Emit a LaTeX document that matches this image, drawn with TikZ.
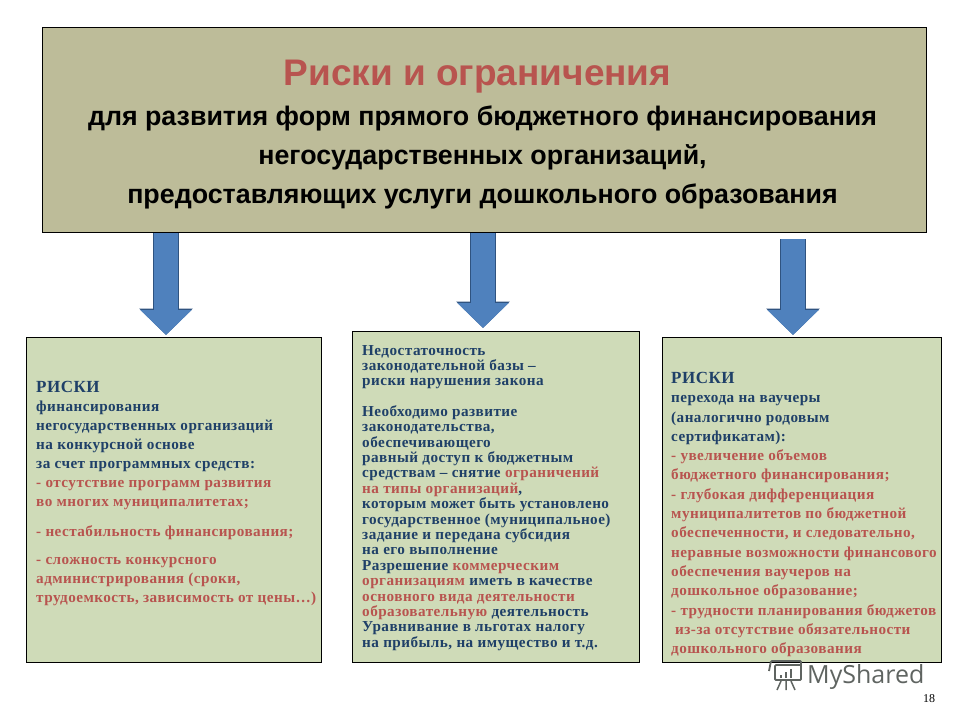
\documentclass[tikz,border=0pt]{standalone}
\usepackage{fontspec}
\setmainfont{Liberation Serif}
\setsansfont{Liberation Sans}
\newfontfamily\bodyfont[LetterSpace=3]{Liberation Serif}
\newfontfamily\markfont{Open Sans}
\usepackage{xcolor}
\definecolor{headbg}{HTML}{BDBC99}
\definecolor{riskbg}{HTML}{CFDBB8}
\definecolor{riskred}{HTML}{B8544F}
\definecolor{riskblue}{HTML}{1F4068}
\definecolor{arrowblue}{HTML}{4F81BD}
\definecolor{arrowedge}{HTML}{2F5380}
\definecolor{markgray}{HTML}{5F6461}
\usetikzlibrary{arrows.meta, positioning}
\newcommand{\rsk}[1]{\textcolor{riskred}{#1}}

\begin{document}
\begin{tikzpicture}[
      x=1pt, y=-1pt,
      %% Header box across the top
      headbox/.style={rectangle, draw=black, fill=headbg, line width=0.8pt,
                      minimum width=884.2pt, minimum height=205.2pt, anchor=north west},
      headtxt/.style={align=center, inner sep=0pt,
                      font=\sffamily\bfseries\fontsize{26.8}{39}\selectfont},
      %% The three green boxes
      riskbox/.style={rectangle, draw=black, fill=riskbg, line width=0.8pt,
                      anchor=north west, inner sep=0pt},
      risktxt/.style={anchor=north west, inner sep=0pt, align=left, text=riskblue,
                      font=\bodyfont\bfseries\fontsize{15.2}{#1}\selectfont},
      %% Block arrows: an edge colour pass, then the blue fill
      blockarr/.style={-{Triangle[width=50pt, length=25pt, fill=arrowblue, color=arrowblue]},
                       draw=arrowblue, line width=24pt,
                       preaction={draw=arrowedge, line width=25.4pt,
                                  -{Triangle[width=52pt, length=26.5pt, color=arrowedge]}}},
    ]
    \useasboundingbox (0,0) rectangle (960,720);

    %% ── Header ──────────────────────────────────────────────────────────────
    \node[headbox] (head) at (42,27) {};
    \node[headtxt, xshift=-2pt, yshift=-5pt] (headtext) at (head.center)
      {{\color{riskred}\fontsize{37}{39}\selectfont Риски и ограничения\hspace{10pt}}\\[1pt]
       для развития форм прямого бюджетного финансирования\\
       негосударственных организаций,\\
       предоставляющих услуги дошкольного образования};

    %% ── Green boxes ─────────────────────────────────────────────────────────
    \node[riskbox, minimum width=295.2pt, minimum height=325.2pt] (left)  at (26,337)  {};
    \node[riskbox, minimum width=287.2pt, minimum height=331.2pt] (mid)   at (352,331) {};
    \node[riskbox, minimum width=279.2pt, minimum height=325.2pt] (right) at (662,337) {};

    %% ── Arrow ends ──────────────────────────────────────────────────────────
    \coordinate (leftin)   at (166,335);
    \coordinate (midin)    at (483,328);
    \coordinate (rightin)  at (793,335);
    \coordinate (rightout) at (793,239);

    \draw[blockarr] (head.south -| leftin) -- (leftin);
    \draw[blockarr] (head.south -| midin)  -- (midin);
    \draw[blockarr] (rightout) -- (rightin);

    %% ── Box texts ───────────────────────────────────────────────────────────
    \node[risktxt=19pt, below right=44pt and 10pt of left.north west] (lefttxt)
      {{\fontsize{17}{19}\selectfont РИСКИ}\\
       финансирования\\
       негосударственных организаций\\
       на конкурсной основе\\
       за счет программных средств:\\
       \rsk{- отсутствие программ развития}\\
       \rsk{во многих муниципалитетах;}\\[11pt]
       \rsk{- нестабильность финансирования;}\\[9pt]
       \rsk{- сложность конкурсного}\\
       \rsk{администрирования (сроки,}\\
       \rsk{трудоемкость, зависимость от цены…)}};

    \node[risktxt=15.4pt, below right=14pt and 10pt of mid.north west] (midtxt)
      {Недостаточность\\
       законодательной базы –\\
       риски нарушения закона\\[15pt]
       Необходимо развитие\\
       законодательства,\\
       обеспечивающего\\
       равный доступ к бюджетным\\
       средствам – снятие \rsk{ограничений}\\
       \rsk{на типы организаций},\\
       которым может быть установлено\\
       государственное (муниципальное)\\
       задание и передана субсидия\\
       на его выполнение\\
       Разрешение \rsk{коммерческим}\\
       \rsk{организациям} иметь в качестве\\
       \rsk{основного вида деятельности}\\
       \rsk{образовательную} деятельность\\
       Уравнивание в льготах налогу\\
       на прибыль, на имущество и т.д.};

    \node[risktxt=19.3pt, below right=35pt and 9pt of right.north west] (righttxt)
      {{\fontsize{17}{19}\selectfont РИСКИ}\\
       перехода на ваучеры\\
       (аналогично родовым\\
       сертификатам):\\
       \rsk{- увеличение объемов}\\
       \rsk{бюджетного финансирования;}\\
       \rsk{- глубокая дифференциация}\\
       \rsk{муниципалитетов по бюджетной}\\
       \rsk{обеспеченности, и следовательно,}\\
       \rsk{неравные возможности финансового}\\
       \rsk{обеспечения ваучеров на}\\
       \rsk{дошкольное образование;}\\
       \rsk{- трудности планирования бюджетов}\\
       \rsk{\hspace{4pt}из-за отсутствие обязательности}\\
       \rsk{дошкольного образования}};

    %% ── Watermark and page number ───────────────────────────────────────────
    \node[anchor=base west, inner sep=0pt, text=markgray,
          font=\markfont\fontsize{25}{30}\selectfont] (mark) at (807,683) {MyShared};
    \draw[markgray, line width=1.8pt, rounded corners=1pt]
      (769,671) -- (771,661) -- (801,661) -- (801,680) -- (775,680) -- (775,665) -- (801,665);
    \draw[markgray, line width=2.4pt]
      (781,678) -- (781,675) (786,678) -- (786,672) (791,678) -- (791,669);
    \draw[markgray, line width=1.5pt]
      (781,681) -- (777,690) (786,681) -- (786,690) (791,681) -- (795,690);
    \node[anchor=base, inner sep=0pt, font=\fontsize{12}{12}\selectfont] (page) at (929,702) {18};
  \end{tikzpicture}
\end{document}
